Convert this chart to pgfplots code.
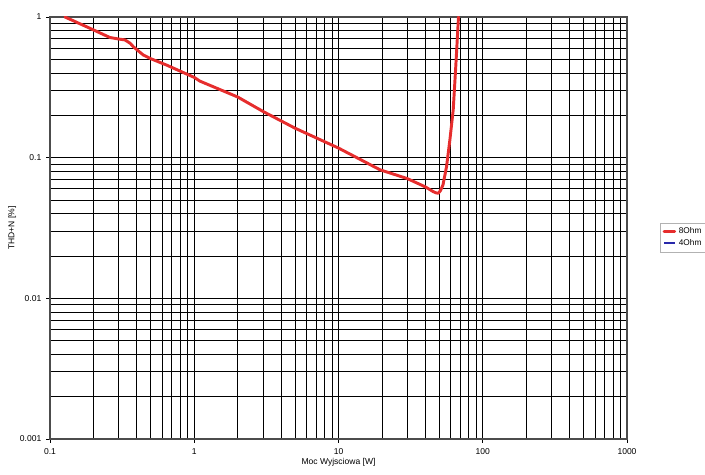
\documentclass[border=0pt]{standalone}
\usepackage{fontspec}
\setmainfont{Liberation Sans}
\usepackage{pgfplots}
\pgfplotsset{compat=1.18}
\begin{document}
\begin{tikzpicture}[x=1pt,y=1pt]
\path[use as bounding box] (-37.5,-26.25) rectangle (491.25,329.25);
\begin{axis}[
  at={(0,0)}, anchor=south west,
  scale only axis,
  width=432.75pt, height=316.5pt,
  xmode=log, ymode=log,
  xmin=0.1, xmax=1000, ymin=0.001, ymax=1,
  xtick={0.1,1,10,100,1000},
  xticklabels={0.1,1,10,100,1000},
  ytick={0.001,0.01,0.1,1},
  yticklabels={0.001,0.01,0.1,1},
  minor xtick={0.2,0.3,0.4,0.5,0.6,0.7,0.8,0.9,2,3,4,5,6,7,8,9,20,30,40,50,60,70,80,90,200,300,400,500,600,700,800,900},
  minor ytick={0.002,0.003,0.004,0.005,0.006,0.007,0.008,0.009,0.02,0.03,0.04,0.05,0.06,0.07,0.08,0.09,0.2,0.3,0.4,0.5,0.6,0.7,0.8,0.9},
  grid=both,
  major grid style={black, line width=0.6pt},
  minor grid style={black, line width=0.6pt},
  axis line style={black!70, line width=0.8pt},
  tick pos=left,
  tick align=outside,
  major tick length=3pt,
  minor tick length=0pt,
  tick style={black, line width=0.6pt},
  tick label style={font=\fontsize{6.4}{7.5}\selectfont},
  xticklabel style={yshift=-0.5pt},
  label style={font=\fontsize{6.4}{7.5}\selectfont},
  xlabel={Moc Wyjsciowa [W]},
  ylabel={THD+N [\%]},
  xlabel style={yshift=4pt},
  ylabel style={yshift=-4pt},
  legend style={at={(1.058,0.512)}, anchor=north west, draw=black!30, line width=0.3pt,
    font=\fontsize{6.2}{7}\selectfont, inner sep=1.5pt, row sep=-1.5pt},
  legend cell align=left,
  legend image code/.code={\draw[#1] (0cm,0cm) -- (0.28cm,0cm);},
]
\addplot[color={rgb,255:red,230;green,45;blue,45}, line width=2.2pt, line join=round, line cap=round] coordinates {
(0.127,1.0) (0.2,0.81) (0.26,0.715) (0.3,0.697) (0.331,0.687) (0.36,0.65)
(0.378,0.615) (0.443,0.537) (0.5,0.505) (0.644,0.455) (1.0,0.372) (1.095,0.35)
(2,0.27) (3,0.213) (5,0.162) (10,0.117) (19.4,0.082) (30,0.071) (40,0.062)
(45.3,0.0574) (47.5,0.0562) (49.2,0.0558) (51,0.0585) (53.0,0.064) (56.1,0.0863)
(59.2,0.134) (62.4,0.218) (65.0,0.443) (67.9,1.0)
};
\addlegendentry{8Ohm}
\addlegendimage{color={rgb,255:red,40;green,40;blue,170}, line width=2pt}
\addlegendentry{4Ohm}
\end{axis}
\end{tikzpicture}
\end{document}
